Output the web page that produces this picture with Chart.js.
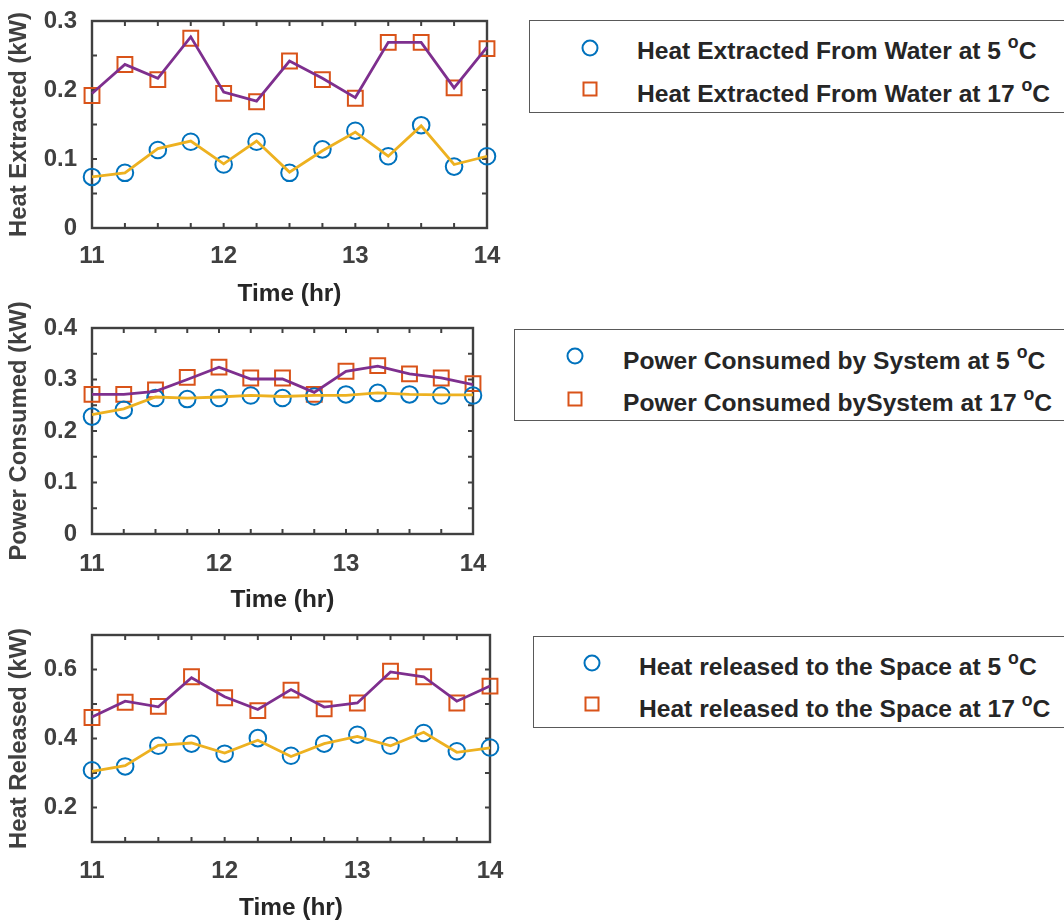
<!DOCTYPE html>
<html><head><meta charset="utf-8">
<script src="https://cdn.jsdelivr.net/npm/chart.js@4"></script>
<style>
html,body{margin:0;padding:0;background:#fff;overflow:hidden;width:1064px;height:922px;}
.cv{position:absolute;left:0;}
.leg{position:absolute;border:1.5px solid #595959;background:#fff;width:600px;box-sizing:border-box;font-family:"Liberation Sans",Arial,sans-serif;font-weight:bold;font-size:24.6px;color:#262626;}
.leg .t{position:absolute;white-space:nowrap;line-height:1;transform:translateY(-50%);}
.leg sup{font-size:0.72em;position:relative;top:-0.1em;}
.mk{position:absolute;box-sizing:border-box;}
.mk.c{width:17px;height:17px;border:2px solid #0072BD;border-radius:50%;transform:translate(-50%,-50%);}
.mk.s{width:15px;height:15px;border:2px solid #D95319;transform:translate(-50%,-50%);}
</style></head>
<body>
<canvas id="c1" class="cv" style="top:0px" width="520" height="310"></canvas>
<canvas id="c2" class="cv" style="top:280px" width="520" height="340"></canvas>
<canvas id="c3" class="cv" style="top:620px" width="520" height="303"></canvas>

<div class="leg" style="left:529px;top:20px;height:93px;">
  <div class="mk c" style="left:60px;top:27px;"></div>
  <div class="t" style="left:107px;top:29px;">Heat Extracted From Water at 5 <sup>o</sup>C</div>
  <div class="mk s" style="left:60px;top:68px;"></div>
  <div class="t" style="left:107px;top:72px;">Heat Extracted From Water at 17 <sup>o</sup>C</div>
</div>
<div class="leg" style="left:514px;top:329px;height:92px;">
  <div class="mk c" style="left:60px;top:26px;"></div>
  <div class="t" style="left:108px;top:30px;">Power Consumed by System at 5 <sup>o</sup>C</div>
  <div class="mk s" style="left:60px;top:69px;"></div>
  <div class="t" style="left:108px;top:72px;">Power Consumed bySystem at 17 <sup>o</sup>C</div>
</div>
<div class="leg" style="left:533px;top:636px;height:92px;">
  <div class="mk c" style="left:58px;top:26px;"></div>
  <div class="t" style="left:105px;top:29px;">Heat released to the Space at 5 <sup>o</sup>C</div>
  <div class="mk s" style="left:58px;top:67px;"></div>
  <div class="t" style="left:105px;top:71px;">Heat released to the Space at 17 <sup>o</sup>C</div>
</div>

<script>
// ---- data ----
const times = [11, 11.25, 11.5, 11.75, 12, 12.25, 12.5, 12.75, 13, 13.25, 13.5, 13.75, 14];

// Heat extracted (kW)
const heatExt5Markers  = [0.074, 0.080, 0.113, 0.125, 0.092, 0.125, 0.080, 0.114, 0.141, 0.104, 0.149, 0.089, 0.104];
const heatExt5Line     = [0.074, 0.080, 0.115, 0.126, 0.093, 0.126, 0.081, 0.112, 0.139, 0.104, 0.148, 0.092, 0.104];
const heatExt17Markers = [0.192, 0.237, 0.215, 0.275, 0.195, 0.183, 0.242, 0.215, 0.188, 0.269, 0.269, 0.203, 0.260];
const heatExt17Line    = [0.195, 0.237, 0.217, 0.277, 0.197, 0.184, 0.242, 0.217, 0.189, 0.269, 0.269, 0.203, 0.262];

// Power consumed (kW)
const power5Markers  = [0.228, 0.241, 0.264, 0.262, 0.264, 0.269, 0.264, 0.267, 0.271, 0.274, 0.271, 0.269, 0.269];
const power5Line     = [0.232, 0.243, 0.266, 0.264, 0.266, 0.269, 0.267, 0.269, 0.269, 0.274, 0.271, 0.270, 0.270];
const power17Markers = [0.271, 0.271, 0.280, 0.304, 0.324, 0.303, 0.303, 0.271, 0.316, 0.327, 0.311, 0.303, 0.292];
const power17Line    = [0.271, 0.271, 0.277, 0.300, 0.324, 0.301, 0.301, 0.275, 0.316, 0.326, 0.311, 0.303, 0.290];

// Heat released (kW)
const heatRel5Markers  = [0.308, 0.319, 0.379, 0.385, 0.356, 0.401, 0.350, 0.385, 0.411, 0.379, 0.416, 0.363, 0.374];
const heatRel5Line     = [0.305, 0.321, 0.380, 0.387, 0.358, 0.395, 0.348, 0.385, 0.406, 0.379, 0.418, 0.360, 0.373];
const heatRel17Markers = [0.461, 0.505, 0.493, 0.579, 0.518, 0.481, 0.540, 0.486, 0.503, 0.595, 0.579, 0.503, 0.552];
const heatRel17Line    = [0.462, 0.508, 0.492, 0.576, 0.521, 0.484, 0.542, 0.491, 0.503, 0.593, 0.579, 0.508, 0.552];

const xTickLabels = ['11', '12', '13', '14'];

// ---- style ----
const BLUE = '#0072BD', ORANGE = '#D95319', YELLOW = '#EDB120', PURPLE = '#7E2F8E';
const AX = '#404040';
const FONT = '"Liberation Sans", Arial, Helvetica, sans-serif';

const pts = arr => times.map((t, i) => ({x: t, y: arr[i]}));

const boxPlugin = {
  id: 'boxTicks',
  beforeDatasetsDraw(chart) {
    const {ctx, chartArea: a, scales} = chart;
    ctx.save();
    ctx.strokeStyle = AX;
    ctx.lineWidth = 2.4;
    ctx.strokeRect(a.left, a.top, a.right - a.left, a.bottom - a.top);
    ctx.lineWidth = 2;
    const L = 5;
    ctx.beginPath();
    scales.x.ticks.forEach(t => {
      const p = scales.x.getPixelForValue(t.value);
      ctx.moveTo(p, a.bottom); ctx.lineTo(p, a.bottom - L);
      ctx.moveTo(p, a.top); ctx.lineTo(p, a.top + L);
    });
    scales.y.ticks.forEach(t => {
      const p = scales.y.getPixelForValue(t.value);
      ctx.moveTo(a.left, p); ctx.lineTo(a.left + L, p);
      ctx.moveTo(a.right, p); ctx.lineTo(a.right - L, p);
    });
    ctx.stroke();
    ctx.restore();
  }
};

function makeChart(id, cfg) {
  const ds = (label, data, lineColor, markColor, style, r) => ({
    label, data: pts(data), showLine: true,
    borderColor: lineColor, borderWidth: style === 'line' ? 2.8 : 0,
    pointRadius: style === 'line' ? 0 : r, pointStyle: style === 'line' ? 'circle' : style,
    pointBorderColor: markColor, pointBackgroundColor: 'rgba(0,0,0,0)', pointBorderWidth: 2,
    pointHoverRadius: r, clip: false, tension: 0
  });
  const datasets = [
    ds(cfg.names[0] + ' line', cfg.l5, YELLOW, BLUE, 'line', 0),
    ds(cfg.names[1] + ' line', cfg.l17, PURPLE, ORANGE, 'line', 0),
    Object.assign(ds(cfg.names[0], cfg.m5, 'rgba(0,0,0,0)', BLUE, 'circle', 8.3), {showLine: false}),
    Object.assign(ds(cfg.names[1], cfg.m17, 'rgba(0,0,0,0)', ORANGE, 'rect', 10.5), {showLine: false})
  ];
  return new Chart(document.getElementById(id), {
    type: 'scatter',
    data: {datasets},
    plugins: [boxPlugin],
    options: {
      responsive: false, animation: false, devicePixelRatio: 1,
      layout: {padding: {left: 0, top: cfg.top, right: cfg.right, bottom: 0}},
      plugins: {legend: {display: false}, tooltip: {enabled: false}},
      scales: {
        x: {
          type: 'linear', min: 11, max: 14,
          afterFit: s => { s.height = cfg.xh; s.paddingLeft = 0; s.paddingRight = 0; s.paddingTop = 0; s.paddingBottom = 0; },
          grid: {display: false, drawTicks: false}, border: {display: false},
          ticks: {
            stepSize: 0.25, autoSkip: false, maxRotation: 0, padding: cfg.xpad,
            color: AX, font: {family: FONT, weight: 'bold', size: 24},
            callback: v => {
              const k = xTickLabels.indexOf(String(Math.round(v)));
              return Math.abs(v - Math.round(v)) < 1e-6 && k >= 0 ? xTickLabels[k] : '';
            }
          },
          title: {display: true, text: 'Time (hr)', color: '#262626',
                  font: {family: FONT, weight: 'bold', size: 24.4, lineHeight: 1.2},
                  padding: {top: 0, bottom: cfg.tpad}}
        },
        y: {
          min: cfg.ymin, max: cfg.ymax,
          afterFit: s => { s.width = 92; s.paddingLeft = 0; s.paddingRight = 0; s.paddingTop = 0; s.paddingBottom = 0; },
          grid: {display: false, drawTicks: false}, border: {display: false},
          ticks: {
            stepSize: cfg.ystep, autoSkip: false, padding: 15,
            color: AX, font: {family: FONT, weight: 'bold', size: 24},
            callback: v => {
              const n = Math.round(v / cfg.ylab);
              if (Math.abs(v - n * cfg.ylab) > 1e-6) return '';
              return Math.abs(v) < 1e-9 ? '0' : v.toFixed(1);
            }
          },
          title: {display: true, text: cfg.ytitle, color: AX,
                  font: {family: FONT, weight: 'bold', size: 23.8, lineHeight: 1.2},
                  padding: {top: 5, bottom: 0}}
        }
      }
    }
  });
}

makeChart('c1', {
  names: ['Heat Extracted From Water at 5 °C', 'Heat Extracted From Water at 17 °C'],
  m5: heatExt5Markers, l5: heatExt5Line, m17: heatExt17Markers, l17: heatExt17Line,
  top: 21, right: 33, xh: 82, xpad: 14, tpad: 1,
  ymin: 0, ymax: 0.3, ystep: 0.05, ylab: 0.1, ytitle: 'Heat Extracted (kW)'
});
makeChart('c2', {
  names: ['Power Consumed by System at 5 °C', 'Power Consumed bySystem at 17 °C'],
  m5: power5Markers, l5: power5Line, m17: power17Markers, l17: power17Line,
  top: 48, right: 47, xh: 86, xpad: 16, tpad: 5,
  ymin: 0, ymax: 0.4, ystep: 0.05, ylab: 0.1, ytitle: 'Power Consumed (kW)'
});
makeChart('c3', {
  names: ['Heat released to the Space at 5 °C', 'Heat released to the Space at 17 °C'],
  m5: heatRel5Markers, l5: heatRel5Line, m17: heatRel17Markers, l17: heatRel17Line,
  top: 15, right: 30, xh: 81, xpad: 15, tpad: 0,
  ymin: 0.1, ymax: 0.7, ystep: 0.1, ylab: 0.2, ytitle: 'Heat Released (kW)'
});
</script>
</body></html>
